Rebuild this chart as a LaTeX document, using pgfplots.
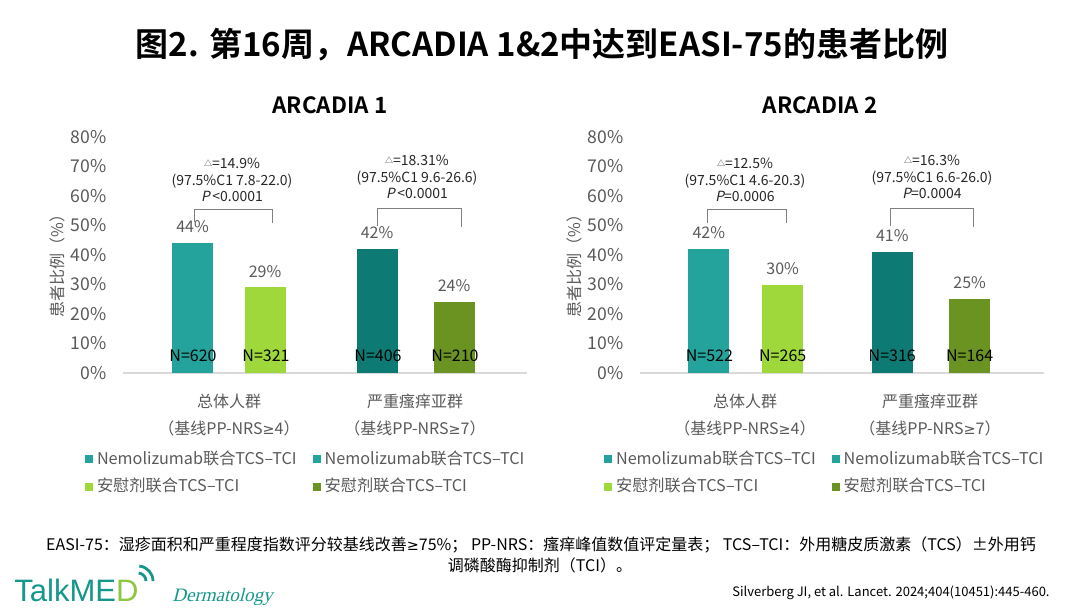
\documentclass[border=0pt]{standalone}
\usepackage{pgfplots}
\pgfplotsset{compat=1.18}
\usepackage{fontspec}
\setmainfont{Noto Sans CJK SC}[BoldFont={Noto Sans CJK SC Bold}]
\newfontfamily\itfont{Noto Sans CJK SC}[FakeSlant=0.2]
\newfontfamily\symfont{DejaVu Sans}
\newfontfamily\logofont{Liberation Sans}
\newfontfamily\dermfont{Liberation Serif}[FakeSlant=0.25]
\definecolor{cA}{HTML}{23A39B}
\definecolor{cB}{HTML}{9FD83A}
\definecolor{cC}{HTML}{0D7B73}
\definecolor{cD}{HTML}{6A9321}
\definecolor{tgray}{HTML}{595959}
\definecolor{agray}{HTML}{D9D9D9}
\definecolor{bgray}{HTML}{808080}
\definecolor{logoteal}{HTML}{16978B}
\definecolor{logogreen}{HTML}{8DC63F}
\newcommand{\tri}{\raisebox{1.2pt}{\fontsize{4}{4}\selectfont △}}
\newcommand{\gesym}{{\symfont\scalebox{0.9}{≥}}}
\pgfplotsset{
  chartstyle/.style={
    scale only axis, width=202pt, height=118pt,
    ymin=0, ymax=80, ytick={0,10,...,80},
    axis x line*=bottom, axis y line*=left,
    axis line style={-},
    x axis line style={draw=agray, line width=0.8pt},
    y axis line style={draw=none},
    major tick length=0pt, xtick=\empty,
    /pgf/number format/assume math mode=true,
    yticklabel={\pgfmathprintnumber{\tick}\%},
    yticklabel style={font=\fontsize{8.8}{10}\selectfont, text=tgray, anchor=east, inner sep=0pt, xshift=-8pt},
    clip=false,
    nodes near coords={\pgfmathprintnumber{\pgfplotspointmeta}\%},
    every node near coord/.append style={font=\fontsize{8}{9}\selectfont, text=tgray, yshift=1.5pt},
    legend columns=2,
    legend cell align=left,
    legend image code/.code={\path[#1] (0pt,-2pt) rectangle (4pt,2pt);},
    legend style={draw=none, fill=none, anchor=north west, inner sep=0pt,
      font=\fontsize{8.1}{9}\selectfont, text=tgray,
      /tikz/every even column/.append style={column sep=6pt},
      row sep=1.5pt},
  },
}
\begin{document}
\begin{tikzpicture}
\path[use as bounding box] (0pt,0pt) rectangle (540pt,-303.5pt);
% ---------- ARCADIA 1 ----------
\begin{axis}[chartstyle, at={(61.5pt,-186.5pt)}, anchor=south west,
  xmin=123, xmax=527,
  legend style={at={(-0.095,-0.31)}}]
\addplot[ybar, bar width=41, bar shift=0pt, fill=cA, draw=none, forget plot] coordinates {(192.5,44)};
\addplot[ybar, bar width=41, bar shift=0pt, fill=cB, draw=none, forget plot] coordinates {(265,29)};
\addplot[ybar, bar width=41, bar shift=0pt, fill=cC, draw=none, forget plot] coordinates {(377,42)};
\addplot[ybar, bar width=41, bar shift=0pt, fill=cD, draw=none, forget plot] coordinates {(454,24)};
\addlegendimage{fill=cA, draw=none}\addlegendentry{Nemolizumab联合TCS–TCI}
\addlegendimage{fill=cA, draw=none}\addlegendentry{Nemolizumab联合TCS–TCI}
\addlegendimage{fill=cB, draw=none}\addlegendentry{安慰剂联合TCS–TCI}
\addlegendimage{fill=cD, draw=none}\addlegendentry{安慰剂联合TCS–TCI}
\node[font=\fontsize{8}{8}\selectfont] at (axis cs:193,5.8) {N=620};
\node[font=\fontsize{8}{8}\selectfont] at (axis cs:266,5.8) {N=321};
\node[font=\fontsize{8}{8}\selectfont] at (axis cs:378,5.8) {N=406};
\node[font=\fontsize{8}{8}\selectfont] at (axis cs:455,5.8) {N=210};
\end{axis}
% ---------- ARCADIA 2 ----------
\begin{axis}[chartstyle, at={(320pt,-186.5pt)}, anchor=south west,
  xmin=640, xmax=1042,
  legend style={at={(-0.09,-0.31)}}]
\addplot[ybar, bar width=41, bar shift=0pt, fill=cA, draw=none, forget plot] coordinates {(708.5,42)};
\addplot[ybar, bar width=41, bar shift=0pt, fill=cB, draw=none, forget plot] coordinates {(782,30)};
\addplot[ybar, bar width=41, bar shift=0pt, fill=cC, draw=none, forget plot] coordinates {(891,41)};
\addplot[ybar, bar width=41, bar shift=0pt, fill=cD, draw=none, forget plot] coordinates {(968,25)};
\addlegendimage{fill=cA, draw=none}\addlegendentry{Nemolizumab联合TCS–TCI}
\addlegendimage{fill=cA, draw=none}\addlegendentry{Nemolizumab联合TCS–TCI}
\addlegendimage{fill=cB, draw=none}\addlegendentry{安慰剂联合TCS–TCI}
\addlegendimage{fill=cD, draw=none}\addlegendentry{安慰剂联合TCS–TCI}
\node[font=\fontsize{8}{8}\selectfont] at (axis cs:709,5.8) {N=522};
\node[font=\fontsize{8}{8}\selectfont] at (axis cs:782,5.8) {N=265};
\node[font=\fontsize{8}{8}\selectfont] at (axis cs:891,5.8) {N=316};
\node[font=\fontsize{8}{8}\selectfont] at (axis cs:968,5.8) {N=164};
\end{axis}
% ---------- annotations (px coordinates) ----------
\begin{scope}[x=0.5pt, y=-0.5pt]
\node[font=\bfseries\fontsize{16.5}{18}\selectfont] at (542,45) {图2. 第16周，ARCADIA 1\&2中达到EASI-75的患者比例};
\node[font=\bfseries\fontsize{11.2}{12}\selectfont] at (330,105) {ARCADIA 1};
\node[font=\bfseries\fontsize{11.2}{12}\selectfont] at (820,105) {ARCADIA 2};
\node[rotate=90, font=\fontsize{8}{9}\selectfont, text=tgray] at (57,262) {患者比例（\%）};
\node[rotate=90, font=\fontsize{8}{9}\selectfont, text=tgray] at (574,262) {患者比例（\%）};
% brackets
\draw[bgray, line width=0.5pt] (194,222) -- (194,209) -- (272,209) -- (272,223);
\draw[bgray, line width=0.5pt] (377,226) -- (377,208) -- (461,208) -- (461,227);
\draw[bgray, line width=0.5pt] (707,223) -- (707,209) -- (786,209) -- (786,223);
\draw[bgray, line width=0.5pt] (890,226) -- (890,208) -- (973,208) -- (973,227);
% difference annotations
\begin{scope}[every node/.style={font=\fontsize{7}{8.25}\selectfont, text=black!85, align=center}]
\node at (232,180) {\tri=14.9\%\\(97.5\%C1 7.8-22.0)\\{\itfont P}\,<0.0001};
\node at (417,177) {\tri=18.31\%\\(97.5\%C1 9.6-26.6)\\{\itfont P}\,<0.0001};
\node at (745,180) {\tri=12.5\%\\(97.5\%C1 4.6-20.3)\\{\itfont P}=0.0006};
\node at (932,177) {\tri=16.3\%\\(97.5\%C1 6.6-26.0)\\{\itfont P}=0.0004};
\end{scope}
% category labels
\begin{scope}[every node/.style={font=\fontsize{8}{9}\selectfont, text=tgray}]
\node at (229,401) {总体人群};
\node at (229,428) {（基线PP-NRS\gesym4）};
\node at (415,401) {严重瘙痒亚群};
\node at (415,428) {（基线PP-NRS\gesym7）};
\node at (745,401) {总体人群};
\node at (745,428) {（基线PP-NRS\gesym4）};
\node at (930,401) {严重瘙痒亚群};
\node at (930,428) {（基线PP-NRS\gesym7）};
\end{scope}
% footer
\node[font=\fontsize{8}{9}\selectfont] at (541,545) {EASI-75：湿疹面积和严重程度指数评分较基线改善\gesym75\%； PP-NRS：瘙痒峰值数值评定量表； TCS–TCI：外用糖皮质激素（TCS）±外用钙};
\node[font=\fontsize{8}{9}\selectfont] at (540,565) {调磷酸酶抑制剂（TCI）。};
\node[anchor=east, font=\fontsize{6.5}{7.5}\selectfont, inner sep=0pt] at (1050,593) {Silverberg JI, et al. Lancet. 2024;404(10451):445-460.};
% logo
\node[anchor=base west, inner sep=0pt, font=\logofont\fontsize{15.5}{16}\selectfont, text=logoteal] at (14,601) {TalkME\textcolor{logogreen}{D}};
\draw[logoteal, line width=1.4pt] ([shift={(0:8)}]138,581) arc (0:-85:8);
\draw[logoteal, line width=1.4pt] ([shift={(0:15)}]138,581) arc (0:-85:15);
\node[anchor=base west, inner sep=0pt, font=\dermfont\fontsize{9.5}{10}\selectfont, text=logoteal] at (172,601) {Dermatology};
\end{scope}
\end{tikzpicture}
\end{document}
